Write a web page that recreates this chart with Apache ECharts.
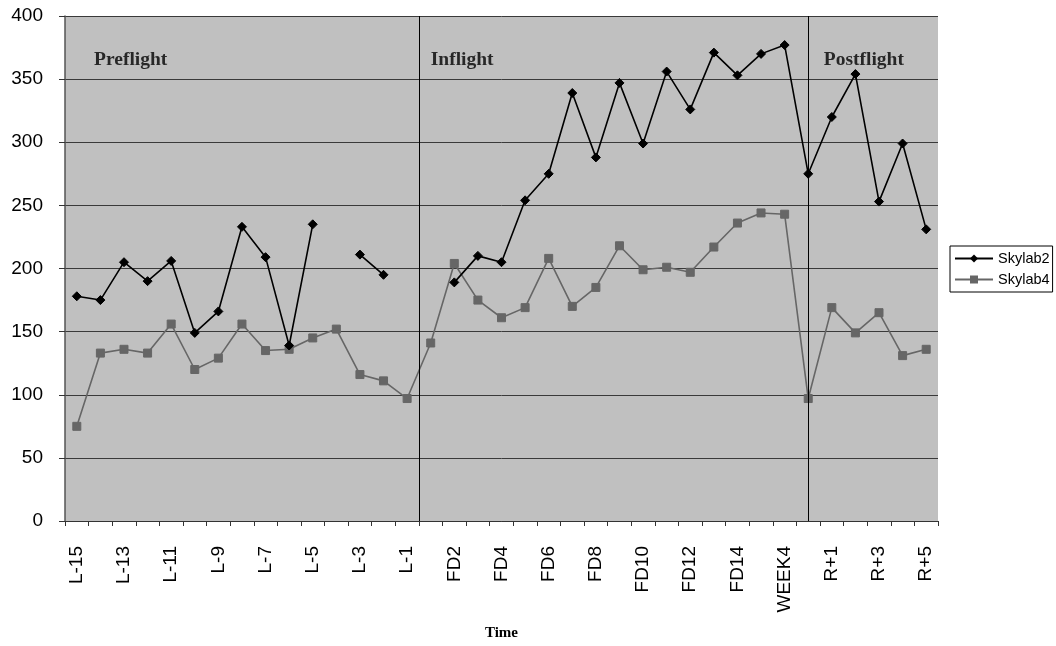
<!DOCTYPE html>
<html>
<head>
<meta charset="utf-8">
<script src="https://cdn.jsdelivr.net/npm/echarts@6/dist/echarts.min.js"></script>
<style>
html,body{margin:0;padding:0;background:#fff;}
#chart{width:1056px;height:646px;}
</style>
</head>
<body>
<div id="chart"></div>
<script>
const categories = ['L-15','L-14','L-13','L-12','L-11','L-10','L-9','L-8','L-7','L-6','L-5','L-4','L-3','L-2','L-1',
  'FD1','FD2','FD3','FD4','FD5','FD6','FD7','FD8','FD9','FD10','FD11','FD12','FD13','FD14','FD15','WEEK4',
  'R+0','R+1','R+2','R+3','R+4','R+5'];
const skylab2 = [178,175,205,190,206,149,166,233,209,139,235,null,211,195,null,null,
  189,210,205,254,275,339,288,347,299,356,326,371,353,370,377,
  275,320,354,253,299,231];
const skylab4 = [75,133,136,133,156,120,129,156,135,136,145,152,116,111,97,141,
  204,175,161,169,208,170,185,218,199,201,197,217,236,244,243,
  97,169,149,165,131,136];
const yTicks = [0,50,100,150,200,250,300,350,400];
const phaseNames = ['Preflight','Inflight','Postflight'];

const chart = echarts.init(document.getElementById('chart'));
const n = categories.length;
const dividers = [categories.indexOf('FD1') - 0.5, categories.indexOf('R+0')];
const phaseAnchors = [[0.73, 365], [15.0, 365], [31.66, 365]];

chart.setOption({
  animation: false,
  grid: {left: 65, right: 118, top: 16, bottom: 118, show: true, backgroundColor: '#C0C0C0', borderWidth: 0},
  legend: {
    orient: 'vertical', left: 950, top: 246,
    itemWidth: 38, itemHeight: 10, itemGap: 6,
    padding: [5, 3, 5, 4],
    borderColor: '#000', borderWidth: 1,
    textStyle: {fontFamily: 'Liberation Sans', fontSize: 14.5, color: '#000'},
    data: ['Skylab2', 'Skylab4']
  },
  xAxis: [{
    type: 'category', data: categories, boundaryGap: true,
    name: 'Time', nameLocation: 'middle', nameGap: 105,
    nameTextStyle: {fontFamily: 'Liberation Serif', fontWeight: 'bold', fontSize: 15, color: '#000'},
    axisLine: {onZero: false, lineStyle: {color: '#333', width: 1}},
    axisTick: {show: true, interval: 0, length: 5, lineStyle: {color: '#333'}},
    axisLabel: {interval: 1, rotate: 90, margin: 25, fontFamily: 'Liberation Sans', fontSize: 19, color: '#000'},
    splitLine: {show: false}
  }, {
    type: 'value', min: -0.5, max: n - 0.5, show: false
  }],
  yAxis: {
    type: 'value', min: yTicks[0], max: yTicks[yTicks.length - 1], interval: yTicks[1] - yTicks[0],
    axisLine: {show: true, onZero: false, lineStyle: {color: '#555', width: 1.5}},
    axisTick: {show: true, length: 6, lineStyle: {color: '#333'}},
    axisLabel: {margin: 22, fontFamily: 'Liberation Sans', fontSize: 19, color: '#000'},
    splitLine: {show: true, lineStyle: {color: '#3a3a3a', width: 1}}
  },
  series: [{
    name: 'Skylab2', type: 'line', data: skylab2, connectNulls: false,
    symbol: 'diamond', symbolSize: 9, showAllSymbol: true,
    lineStyle: {color: '#000', width: 1.6},
    itemStyle: {color: '#000', borderColor: '#000'},
    z: 3
  }, {
    name: 'Skylab4', type: 'line', data: skylab4,
    symbol: 'rect', symbolSize: 8, showAllSymbol: true,
    lineStyle: {color: '#666', width: 1.6},
    itemStyle: {color: '#666', borderColor: '#666'},
    z: 2
  }, {
    name: 'phases', type: 'scatter', xAxisIndex: 1, symbolSize: 0, silent: true,
    data: phaseNames.map((p, i) => ({name: p, value: phaseAnchors[i]})),
    label: {show: true, position: 'inside', align: 'left', verticalAlign: 'middle',
      formatter: '{b}', fontFamily: 'Liberation Serif', fontWeight: 'bold', fontSize: 19.5, color: '#000'},
    markLine: {
      silent: true, symbol: 'none', label: {show: false},
      lineStyle: {color: '#000', width: 1, type: 'solid'},
      data: dividers.map(d => ({xAxis: d}))
    },
    z: 1
  }]
});
</script>
</body>
</html>
